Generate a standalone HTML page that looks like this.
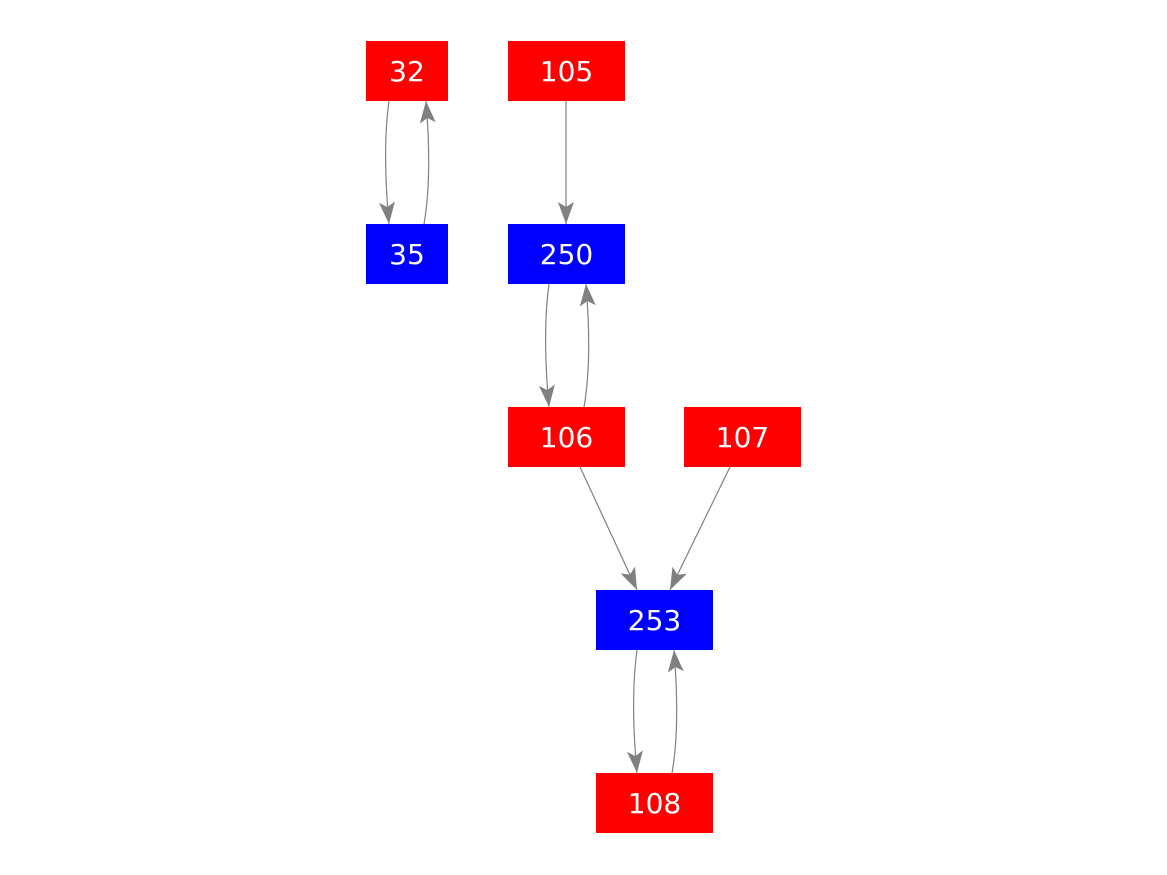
<!DOCTYPE html>
<html><head><style>
body{margin:0;width:1167px;height:875px;background:#fff;overflow:hidden}
.n{position:absolute;height:60px;color:#fff;font:28px "DejaVu Sans","Liberation Sans",sans-serif;display:flex;align-items:center;justify-content:center}
.r{background:#f00}.b{background:#00f}
svg{position:absolute;left:0;top:0}
</style></head><body>
<svg width="1167" height="875">
<defs><marker id="a" markerWidth="22" markerHeight="16" refX="22" refY="8" orient="auto" markerUnits="userSpaceOnUse"><path d="M0,0 L22,8 L0,16 L5,8 Z" fill="#808080"/></marker></defs>
<g stroke="#808080" stroke-width="1.2" fill="none" marker-end="url(#a)">
<path d="M389,101 C385,130 384,170 389,224"/>
<path d="M424,224 C430,190 430,150 426,101"/>
<path d="M566,101 L566,224"/>
<path d="M549,284 C545,313 544,353 549,407"/>
<path d="M584,407 C590,373 590,333 586,284"/>
<path d="M580,467 L637,590"/>
<path d="M730,467 L670,590"/>
<path d="M637,650 C633,679 632,719 637,773"/>
<path d="M672,773 C678,739 678,699 674,650"/>
</g>
</svg>
<div class="n r" style="left:366px;top:41px;width:82px">32</div>
<div class="n r" style="left:508px;top:41px;width:117px">105</div>
<div class="n b" style="left:366px;top:224px;width:82px">35</div>
<div class="n b" style="left:508px;top:224px;width:117px">250</div>
<div class="n r" style="left:508px;top:407px;width:117px">106</div>
<div class="n r" style="left:684px;top:407px;width:117px">107</div>
<div class="n b" style="left:596px;top:590px;width:117px">253</div>
<div class="n r" style="left:596px;top:773px;width:117px">108</div>
</body></html>
